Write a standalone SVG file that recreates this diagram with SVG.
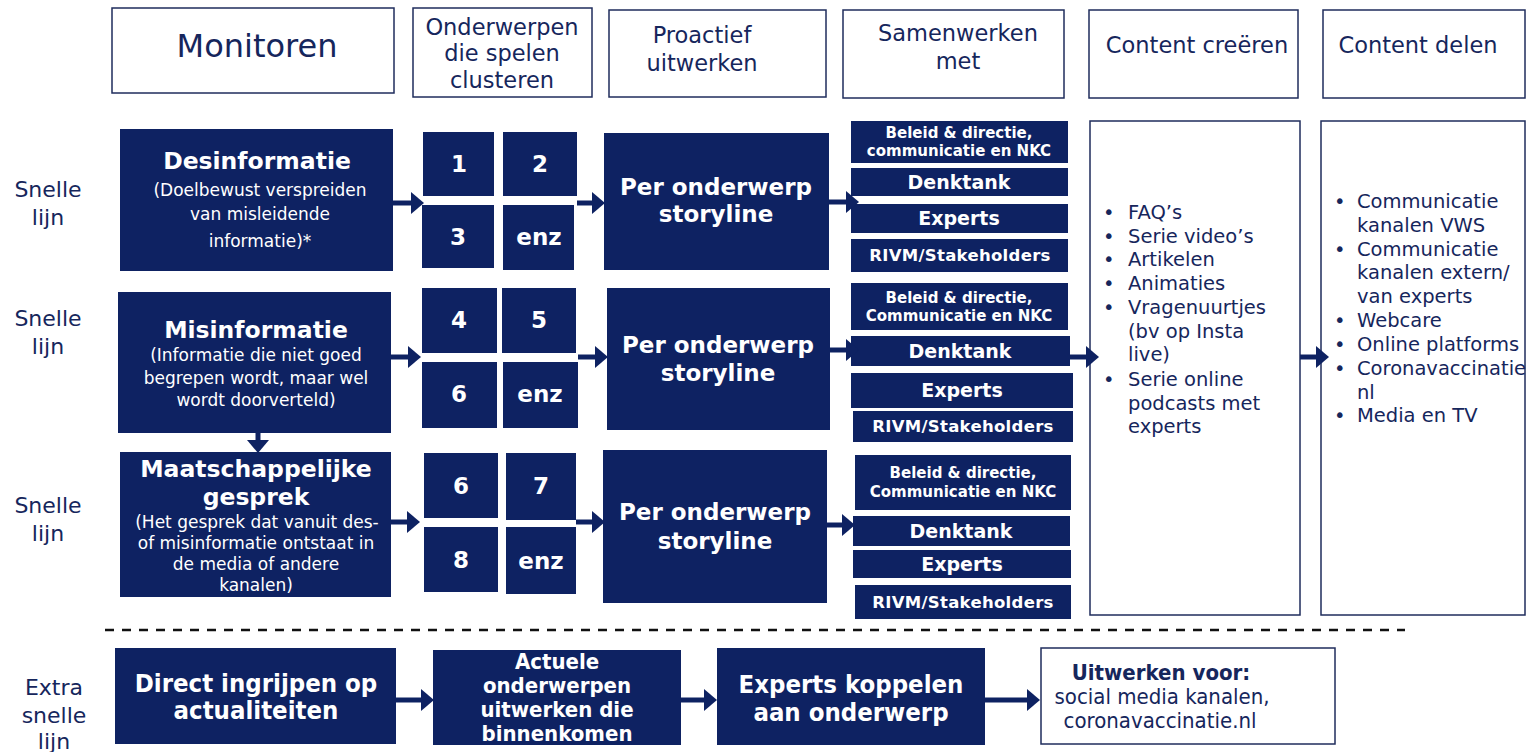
<svg xmlns="http://www.w3.org/2000/svg" width="1529" height="752" viewBox="0 0 1529 752">
<style>
.hdr{fill:#fff;stroke:#1f2d5c;stroke-width:1.5}
.nv{fill:#0e2262}
.wt{fill:#fff;font-family:"DejaVu Sans",Verdana,sans-serif;font-weight:bold;text-anchor:middle}
.ws{fill:#fff;font-family:"DejaVu Sans",Verdana,sans-serif;text-anchor:middle}
.ht{fill:#16265c;font-family:"DejaVu Sans",Verdana,sans-serif;text-anchor:middle}
.lb{fill:#16265c;font-family:"DejaVu Sans",Verdana,sans-serif;text-anchor:middle;font-size:22px}
.bl{fill:#16265c;font-family:"DejaVu Sans",Verdana,sans-serif;font-size:19.5px}
.cd{fill:#fff;font-family:"DejaVu Sans Condensed","DejaVu Sans",sans-serif;font-weight:bold;text-anchor:middle}
.cn{fill:#16265c;font-family:"DejaVu Sans Condensed","DejaVu Sans",sans-serif;text-anchor:middle}
.ln{stroke:#0e2262;stroke-width:5;fill:none}
.dash{stroke:#111;stroke-width:2.5;stroke-dasharray:9 8;fill:none}
</style>
<defs>
<marker id="ah" markerWidth="13" markerHeight="22" refX="0" refY="11" orient="auto" markerUnits="userSpaceOnUse">
<path d="M0,0 L13,11 L0,22 z" fill="#0e2262"/>
</marker>
</defs>
<rect width="1529" height="752" fill="#fff"/>

<!-- headers -->
<g id="h-monitoren"><rect class="hdr" x="112" y="8" width="282" height="85"/><text class="ht" x="257" y="57" font-size="32">Monitoren</text></g>
<g id="h-onderwerpen"><rect class="hdr" x="413" y="8" width="179" height="89"/><text class="ht" font-size="22.5"><tspan x="502" y="35">Onderwerpen</tspan><tspan x="502" y="61">die spelen</tspan><tspan x="502" y="88">clusteren</tspan></text></g>
<g id="h-proactief"><rect class="hdr" x="609" y="10" width="217" height="87"/><text class="ht" font-size="22.5"><tspan x="702" y="43">Proactief</tspan><tspan x="702" y="71">uitwerken</tspan></text></g>
<g id="h-samenwerken"><rect class="hdr" x="843" y="10" width="221" height="88"/><text class="ht" font-size="22.5"><tspan x="958" y="41">Samenwerken</tspan><tspan x="958" y="69">met</tspan></text></g>
<g id="h-creeren"><rect class="hdr" x="1089" y="10" width="209" height="88"/><text class="ht" x="1197" y="53" font-size="22.5">Content creëren</text></g>
<g id="h-delen"><rect class="hdr" x="1323" y="10" width="202" height="88"/><text class="ht" x="1418" y="53" font-size="22.5">Content delen</text></g>

<!-- lane labels -->
<g id="lbl1"><text class="lb"><tspan x="48" y="197">Snelle</tspan><tspan x="48" y="225">lijn</tspan></text></g>
<g id="lbl2"><text class="lb"><tspan x="48" y="326">Snelle</tspan><tspan x="48" y="354">lijn</tspan></text></g>
<g id="lbl3"><text class="lb"><tspan x="48" y="513">Snelle</tspan><tspan x="48" y="541">lijn</tspan></text></g>
<g id="lbl4"><text class="lb"><tspan x="54" y="695">Extra</tspan><tspan x="54" y="723">snelle</tspan><tspan x="54" y="749">lijn</tspan></text></g>

<!-- row 1 -->
<g id="desinformatie"><rect class="nv" x="120" y="129" width="273" height="142"/>
<text class="wt" x="257" y="169" font-size="23.5">Desinformatie</text>
<text class="ws" font-size="17"><tspan x="260" y="196">(Doelbewust verspreiden</tspan><tspan x="260" y="220">van misleidende</tspan><tspan x="260" y="247">informatie)*</tspan></text></g>
<g id="c1"><rect class="nv" x="423" y="132" width="71" height="64"/><text class="wt" x="459" y="172" font-size="23">1</text></g>
<g id="c2"><rect class="nv" x="503" y="132" width="74" height="64"/><text class="wt" x="540" y="172" font-size="23">2</text></g>
<g id="c3"><rect class="nv" x="422" y="205" width="72" height="63"/><text class="wt" x="458" y="245" font-size="23">3</text></g>
<g id="c4"><rect class="nv" x="503" y="205" width="71" height="65"/><text class="wt" x="539" y="245" font-size="23">enz</text></g>
<g id="story1"><rect class="nv" x="604" y="133" width="225" height="137"/><text class="wt" font-size="23"><tspan x="716" y="195">Per onderwerp</tspan><tspan x="716" y="222">storyline</tspan></text></g>
<g id="s1a"><rect class="nv" x="851" y="121" width="217" height="42"/><text class="wt" font-size="15"><tspan x="959" y="138">Beleid &amp; directie,</tspan><tspan x="959" y="156">communicatie en NKC</tspan></text></g>
<g id="s1b"><rect class="nv" x="851" y="168" width="217" height="28"/><text class="wt" x="959" y="189" font-size="19">Denktank</text></g>
<g id="s1c"><rect class="nv" x="851" y="204" width="217" height="29"/><text class="wt" x="959" y="225" font-size="19">Experts</text></g>
<g id="s1d"><rect class="nv" x="851" y="239" width="217" height="33"/><text class="wt" x="960" y="261" font-size="16.5" letter-spacing="0.3">RIVM/Stakeholders</text></g>

<!-- row 2 -->
<g id="misinformatie"><rect class="nv" x="118" y="292" width="273" height="141"/>
<text class="wt" x="256" y="338" font-size="23.5">Misinformatie</text>
<text class="ws" font-size="17"><tspan x="256" y="361">(Informatie die niet goed</tspan><tspan x="256" y="384">begrepen wordt, maar wel</tspan><tspan x="256" y="406">wordt doorverteld)</tspan></text></g>
<g id="c5"><rect class="nv" x="422" y="288" width="75" height="65"/><text class="wt" x="459" y="328" font-size="23">4</text></g>
<g id="c6"><rect class="nv" x="502" y="288" width="74" height="65"/><text class="wt" x="539" y="328" font-size="23">5</text></g>
<g id="c7"><rect class="nv" x="422" y="362" width="75" height="66"/><text class="wt" x="459" y="402" font-size="23">6</text></g>
<g id="c8"><rect class="nv" x="503" y="362" width="75" height="66"/><text class="wt" x="540" y="402" font-size="23">enz</text></g>
<g id="story2"><rect class="nv" x="607" y="288" width="223" height="142"/><text class="wt" font-size="23"><tspan x="718" y="353">Per onderwerp</tspan><tspan x="718" y="381">storyline</tspan></text></g>
<g id="s2a"><rect class="nv" x="851" y="283" width="217" height="47"/><text class="wt" font-size="15"><tspan x="959" y="303">Beleid &amp; directie,</tspan><tspan x="959" y="321">Communicatie en NKC</tspan></text></g>
<g id="s2b"><rect class="nv" x="851" y="336" width="219" height="30"/><text class="wt" x="960" y="358" font-size="19">Denktank</text></g>
<g id="s2c"><rect class="nv" x="851" y="373" width="222" height="35"/><text class="wt" x="962" y="397" font-size="19">Experts</text></g>
<g id="s2d"><rect class="nv" x="853" y="411" width="220" height="31"/><text class="wt" x="963" y="432" font-size="16.5" letter-spacing="0.3">RIVM/Stakeholders</text></g>

<!-- row 3 -->
<g id="maatschappelijk"><rect class="nv" x="120" y="452" width="271" height="145"/>
<text class="wt" font-size="23.5"><tspan x="256" y="477">Maatschappelijke</tspan><tspan x="256" y="505">gesprek</tspan></text>
<text class="ws" font-size="17"><tspan x="257" y="528">(Het gesprek dat vanuit des-</tspan><tspan x="256" y="549">of misinformatie ontstaat in</tspan><tspan x="256" y="570">de media of andere</tspan><tspan x="256" y="591">kanalen)</tspan></text></g>
<g id="c9"><rect class="nv" x="424" y="453" width="74" height="65"/><text class="wt" x="461" y="494" font-size="23">6</text></g>
<g id="c10"><rect class="nv" x="506" y="453" width="70" height="67"/><text class="wt" x="541" y="494" font-size="23">7</text></g>
<g id="c11"><rect class="nv" x="424" y="527" width="74" height="65"/><text class="wt" x="461" y="568" font-size="23">8</text></g>
<g id="c12"><rect class="nv" x="506" y="527" width="70" height="67"/><text class="wt" x="541" y="569" font-size="23">enz</text></g>
<g id="story3"><rect class="nv" x="603" y="450" width="224" height="153"/><text class="wt" font-size="23"><tspan x="715" y="520">Per onderwerp</tspan><tspan x="715" y="549">storyline</tspan></text></g>
<g id="s3a"><rect class="nv" x="855" y="455" width="216" height="55"/><text class="wt" font-size="15"><tspan x="963" y="478">Beleid &amp; directie,</tspan><tspan x="963" y="497">Communicatie en NKC</tspan></text></g>
<g id="s3b"><rect class="nv" x="853" y="516" width="217" height="30"/><text class="wt" x="961" y="538" font-size="19">Denktank</text></g>
<g id="s3c"><rect class="nv" x="853" y="550" width="218" height="28"/><text class="wt" x="962" y="571" font-size="19">Experts</text></g>
<g id="s3d"><rect class="nv" x="855" y="585" width="216" height="34"/><text class="wt" x="963" y="608" font-size="16.5" letter-spacing="0.3">RIVM/Stakeholders</text></g>

<!-- content boxes -->
<g id="content-creeren"><rect class="hdr" x="1090" y="121" width="210" height="494"/>
<g class="bl"><text x="1103" y="219">•</text><text x="1103" y="243">•</text><text x="1103" y="266">•</text><text x="1103" y="290">•</text><text x="1103" y="314">•</text><text x="1103" y="386">•</text></g>
<text class="bl"><tspan x="1128" y="219">FAQ’s</tspan><tspan x="1128" y="243">Serie video’s</tspan><tspan x="1128" y="266">Artikelen</tspan><tspan x="1128" y="290">Animaties</tspan><tspan x="1128" y="314">Vragenuurtjes</tspan><tspan x="1128" y="338">(bv op Insta</tspan><tspan x="1128" y="361">live)</tspan><tspan x="1128" y="386">Serie online</tspan><tspan x="1128" y="410">podcasts met</tspan><tspan x="1128" y="433">experts</tspan></text></g>
<g id="content-delen"><rect class="hdr" x="1321" y="121" width="204" height="494"/>
<g class="bl"><text x="1334" y="208">•</text><text x="1334" y="256">•</text><text x="1334" y="327">•</text><text x="1334" y="351">•</text><text x="1334" y="375">•</text><text x="1334" y="422">•</text></g>
<text class="bl"><tspan x="1357" y="208">Communicatie</tspan><tspan x="1357" y="232">kanalen VWS</tspan><tspan x="1357" y="256">Communicatie</tspan><tspan x="1357" y="279">kanalen extern/</tspan><tspan x="1357" y="303">van experts</tspan><tspan x="1357" y="327">Webcare</tspan><tspan x="1357" y="351">Online platforms</tspan><tspan x="1357" y="375">Coronavaccinatie</tspan><tspan x="1357" y="399">nl</tspan><tspan x="1357" y="422">Media en TV</tspan></text></g>

<!-- extra snelle lijn -->
<g id="direct"><rect class="nv" x="115" y="648" width="281" height="96"/><text class="cd" font-size="25.5"><tspan x="256" y="692">Direct ingrijpen op</tspan><tspan x="256" y="719">actualiteiten</tspan></text></g>
<g id="actuele"><rect class="nv" x="433" y="650" width="248" height="95"/><text class="cd" font-size="22"><tspan x="557" y="669">Actuele</tspan><tspan x="557" y="693">onderwerpen</tspan><tspan x="557" y="717">uitwerken die</tspan><tspan x="557" y="741">binnenkomen</tspan></text></g>
<g id="koppelen"><rect class="nv" x="717" y="648" width="268" height="97"/><text class="cd" font-size="25.5"><tspan x="851" y="693">Experts koppelen</tspan><tspan x="851" y="721">aan onderwerp</tspan></text></g>
<g id="uitwerken"><rect class="hdr" x="1041" y="648" width="294" height="96"/><text class="cn" font-size="22"><tspan x="1161" y="680" font-weight="bold">Uitwerken voor:</tspan><tspan x="1162" y="704">social media kanalen,</tspan><tspan x="1160" y="728">coronavaccinatie.nl</tspan></text></g>

<line class="dash" x1="105" y1="630" x2="1405" y2="630"/>

<!-- connectors -->
<g id="connectors">
<line class="ln" x1="393" y1="203" x2="411" y2="203" marker-end="url(#ah)"/>
<line class="ln" x1="577" y1="203" x2="592" y2="203" marker-end="url(#ah)"/>
<line class="ln" x1="829" y1="202" x2="846" y2="202" marker-end="url(#ah)"/>
<line class="ln" x1="391" y1="357" x2="408" y2="357" marker-end="url(#ah)"/>
<line class="ln" x1="578" y1="357" x2="595" y2="357" marker-end="url(#ah)"/>
<line class="ln" x1="830" y1="350" x2="846" y2="350" marker-end="url(#ah)"/>
<line class="ln" x1="1070" y1="357" x2="1086" y2="357" marker-end="url(#ah)"/>
<line class="ln" x1="1300" y1="357" x2="1316" y2="357" marker-end="url(#ah)"/>
<line class="ln" x1="258" y1="433" x2="258" y2="440" marker-end="url(#ah)"/>
<line class="ln" x1="391" y1="522" x2="407" y2="522" marker-end="url(#ah)"/>
<line class="ln" x1="576" y1="522" x2="592" y2="522" marker-end="url(#ah)"/>
<line class="ln" x1="827" y1="525" x2="842" y2="525" marker-end="url(#ah)"/>
<line class="ln" x1="396" y1="700" x2="421" y2="700" marker-end="url(#ah)"/>
<line class="ln" x1="681" y1="700" x2="704" y2="700" marker-end="url(#ah)"/>
<line class="ln" x1="985" y1="700" x2="1027" y2="700" marker-end="url(#ah)"/>
</g>
</svg>
